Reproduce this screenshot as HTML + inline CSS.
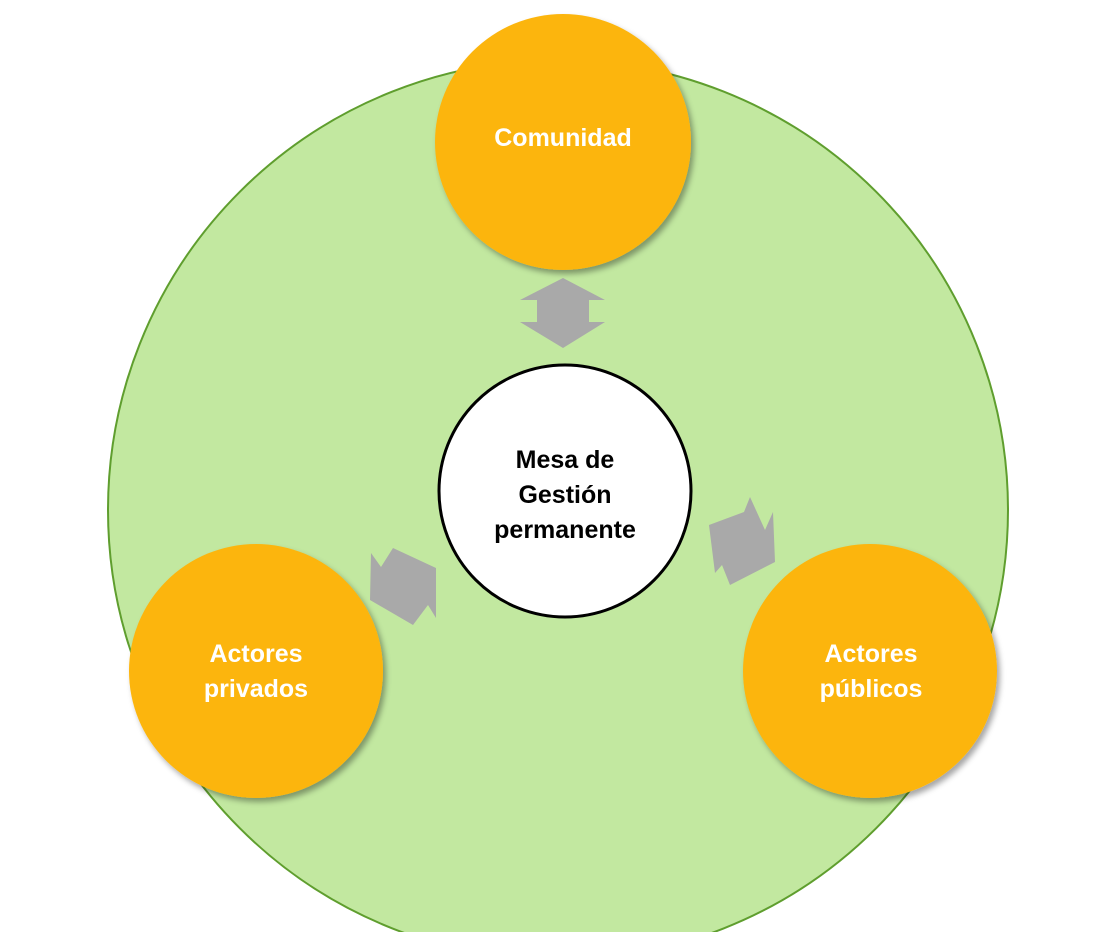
<!DOCTYPE html>
<html><head><meta charset="utf-8"><style>
html,body{margin:0;padding:0;background:#fff;}
svg{display:block;}
text{font-family:"Liberation Sans",sans-serif;font-weight:bold;}
</style></head><body>
<svg width="1102" height="932" viewBox="0 0 1102 932" xmlns="http://www.w3.org/2000/svg">
<defs>
<filter id="sh" x="-20%" y="-20%" width="140%" height="140%">
<feDropShadow dx="3" dy="4" stdDeviation="3" flood-color="#000" flood-opacity="0.35"/>
</filter>
</defs>
<circle cx="558" cy="510" r="450" fill="#c2e8a0" stroke="#5f9e2e" stroke-width="2"/>
<polygon points="563,278 605,300 589,300 589,322 605,322 563,348 520,322 537,322 537,300 520,300" fill="#a9a9a9"/>
<polygon points="371,553 381,567 393,548 436,568 436,618 428,605 413,625 370,600" fill="#a9a9a9"/>
<polygon points="750,497 744,512 709,525 715,573 722,565 730,585 775,562 773,512 765,530" fill="#a9a9a9"/>
<circle cx="563" cy="142" r="128" fill="#fcb50e" filter="url(#sh)"/>
<circle cx="256" cy="671" r="127" fill="#fcb50e" filter="url(#sh)"/>
<circle cx="870" cy="671" r="127" fill="#fcb50e" filter="url(#sh)"/>
<circle cx="565" cy="491" r="126" fill="#fff" stroke="#000" stroke-width="3"/>
<text x="563" y="146" font-size="25" fill="#fff" text-anchor="middle">Comunidad</text>
<text x="256" y="662" font-size="25" fill="#fff" text-anchor="middle">Actores</text>
<text x="256" y="697" font-size="25" fill="#fff" text-anchor="middle">privados</text>
<text x="871" y="662" font-size="25" fill="#fff" text-anchor="middle">Actores</text>
<text x="871" y="697" font-size="25" fill="#fff" text-anchor="middle">públicos</text>
<text x="565" y="468" font-size="25" fill="#000" text-anchor="middle">Mesa de</text>
<text x="565" y="503" font-size="25" fill="#000" text-anchor="middle">Gestión</text>
<text x="565" y="538" font-size="25" fill="#000" text-anchor="middle">permanente</text>
</svg>
</body></html>
